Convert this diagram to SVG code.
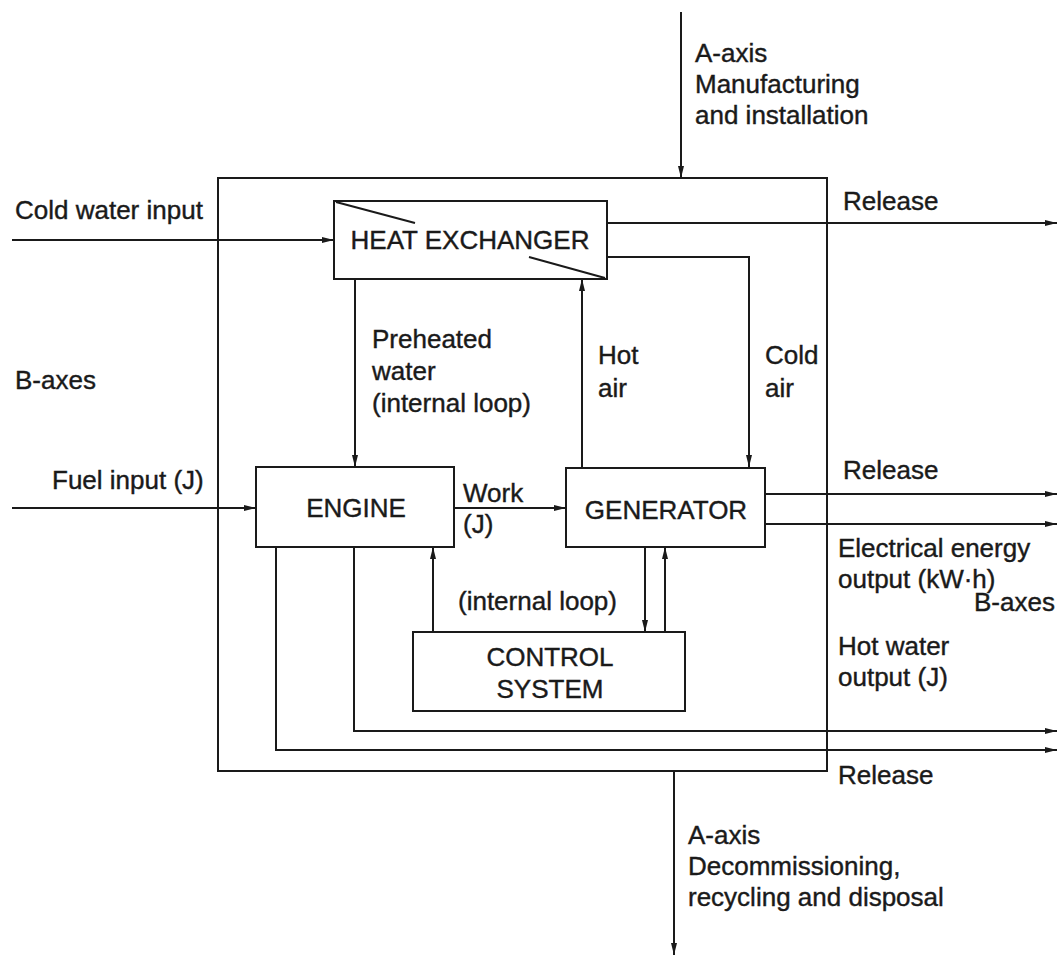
<svg xmlns="http://www.w3.org/2000/svg" width="1059" height="959" viewBox="0 0 1059 959">
<style>
text{font-family:"Liberation Sans",Arial,sans-serif;font-size:26px;fill:#1a1a1a;stroke:#1a1a1a;stroke-width:0.4}
.c{text-anchor:middle}
.box{fill:#fff;stroke:#1a1a1a;stroke-width:2}
.frame{fill:none;stroke:#1a1a1a;stroke-width:2}
.ln{fill:none;stroke:#1a1a1a;stroke-width:2}
.ar{fill:none;stroke:#1a1a1a;stroke-width:2;marker-end:url(#ah)}
</style>
<defs>
<marker id="ah" viewBox="0 0 12 8" refX="12" refY="4" markerWidth="12" markerHeight="8" markerUnits="userSpaceOnUse" orient="auto">
<path d="M0,1 L12,4 L0,7 Z" fill="#1a1a1a"/>
</marker>
</defs>
<rect width="1059" height="959" fill="#fff"/>
<g id="boundary">
<rect class="frame" x="218" y="178" width="609" height="593"/>
</g>
<g id="connectors">
<path class="ar" d="M681,12 V178"/>
<path class="ar" d="M674,771 V955"/>
<path class="ar" d="M12,240 H334"/>
<path class="ar" d="M607,223 H1057"/>
<path class="ar" d="M607,257 H749 V467"/>
<path class="ar" d="M355,279 V467"/>
<path class="ar" d="M582,467 V279"/>
<path class="ar" d="M12,508 H256"/>
<path class="ar" d="M454,508 H566"/>
<path class="ar" d="M765,494 H1057"/>
<path class="ar" d="M765,524 H1057"/>
<path class="ar" d="M645,547 V632"/>
<path class="ar" d="M665,632 V547"/>
<path class="ar" d="M433,632 V547"/>
<path class="ar" d="M354,547 V731 H1057"/>
<path class="ar" d="M276,547 V750 H1057"/>
</g>
<g id="heat-exchanger">
<rect class="box" x="334" y="201" width="273" height="78"/>
<path class="ln" d="M336,202 L415,223 M529,257 L605,278"/>
<text class="c" x="470" y="249">HEAT EXCHANGER</text>
</g>
<g id="engine">
<rect class="box" x="256" y="467" width="198" height="80"/>
<text class="c" x="356" y="517">ENGINE</text>
</g>
<g id="generator">
<rect class="box" x="566" y="468" width="199" height="79"/>
<text class="c" x="666" y="519">GENERATOR</text>
</g>
<g id="control-system">
<rect class="box" x="413" y="632" width="272" height="79"/>
<text class="c" x="550" y="666">CONTROL</text>
<text class="c" x="550" y="698">SYSTEM</text>
</g>
<g id="labels">
<text x="695" y="62">A-axis</text>
<text x="695" y="93">Manufacturing</text>
<text x="695" y="124">and installation</text>
<text x="15" y="219">Cold water input</text>
<text x="843" y="210">Release</text>
<text x="15" y="389">B-axes</text>
<text x="372" y="348">Preheated</text>
<text x="372" y="380">water</text>
<text x="372" y="412">(internal loop)</text>
<text x="598" y="364">Hot</text>
<text x="598" y="397">air</text>
<text x="765" y="364">Cold</text>
<text x="765" y="397">air</text>
<text x="52" y="489">Fuel input (J)</text>
<text x="463" y="502">Work</text>
<text x="463" y="533">(J)</text>
<text x="843" y="479">Release</text>
<text x="838" y="557">Electrical energy</text>
<text x="838" y="588">output (kW·h)</text>
<text x="458" y="610">(internal loop)</text>
<text x="974" y="611">B-axes</text>
<text x="838" y="655">Hot water</text>
<text x="838" y="686">output (J)</text>
<text x="838" y="784">Release</text>
<text x="688" y="844">A-axis</text>
<text x="688" y="875">Decommissioning,</text>
<text x="688" y="906">recycling and disposal</text>
</g>
</svg>
